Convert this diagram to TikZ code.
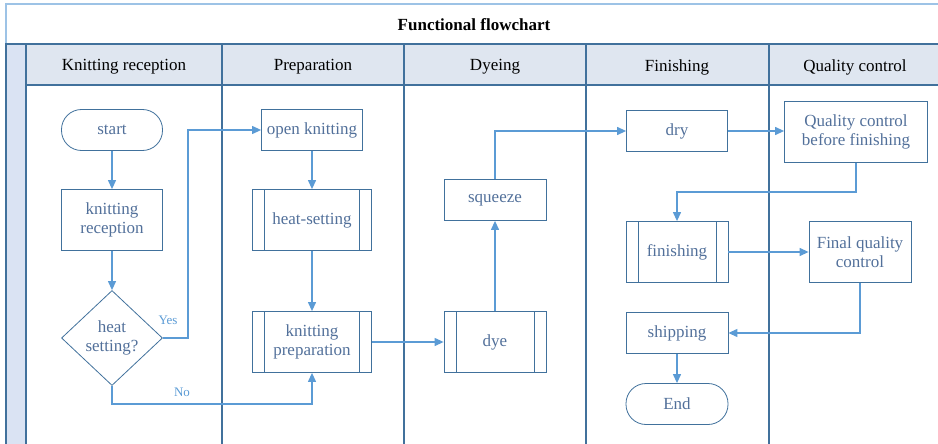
\documentclass[tikz,border=0pt]{standalone}
\usepackage{fontspec}
\setmainfont{Liberation Serif}
\usepackage{xcolor}
\usetikzlibrary{shapes.geometric,arrows.meta}

\definecolor{laneblue}{HTML}{41719C}
\definecolor{flowblue}{HTML}{5B9BD5}
\definecolor{textblue}{HTML}{52709A}
\definecolor{headfill}{HTML}{DFE6F0}
\definecolor{sidefill}{HTML}{DAE3F3}
\definecolor{topblue}{HTML}{9DC3E6}

\begin{document}
\begin{tikzpicture}[
  x=1pt, y=-1pt,
  font=\fontsize{17}{19.5}\selectfont,
  schritt/.style={
    shape=rectangle, draw=laneblue, line width=0.8pt, text=textblue,
    inner sep=0pt, minimum width=101pt, minimum height=41pt, align=center
  },
  hoch/.style={schritt, minimum height=61pt},
  unter/.style={
    schritt, minimum width=119pt, minimum height=61pt,
    path picture={
      \draw[laneblue, line width=0.8pt]
        ([xshift=12pt]path picture bounding box.north west) -- ([xshift=12pt]path picture bounding box.south west)
        ([xshift=-12pt]path picture bounding box.north east) -- ([xshift=-12pt]path picture bounding box.south east);
    }
  },
  kapsel/.style={schritt, rounded corners=20pt},
  raute/.style={
    shape=diamond, draw=laneblue, line width=0.8pt, text=textblue,
    inner sep=0pt, minimum width=101pt, minimum height=95pt, align=center
  },
  kopf/.style={draw=laneblue, line width=1.2pt, fill=headfill},
  lauf/.style={color=flowblue, line width=1.2pt, -{Triangle[length=9pt,width=8pt]}},
  marke/.style={text=flowblue, font=\fontsize{13}{15}\selectfont}
]
\useasboundingbox (0,0) rectangle (938,444);

% frame and lanes
\fill[sidefill] (6,44) rectangle (26,444);
\draw[kopf] (26,44) rectangle (940,85);
\draw[topblue, line width=1.2pt] (6,44) -- (6,4) -- (940,4);
\draw[laneblue, line width=1.2pt] (6,444) -- (6,44) -- (26,44) -- (26,444);
\foreach \x in {222,404,586,769}
  \draw[laneblue, line width=1.2pt] (\x,44) -- (\x,444);

\draw (474,25) node [font=\fontsize{17}{19.5}\selectfont\bfseries] (titel) {Functional flowchart};
\draw (124,67) node (l1) {Knitting reception};
\draw (313,67) node (l2) {Preparation};
\draw (495,67) node (l3) {Dyeing};
\draw (677,67) node (l4) {Finishing};
\draw (855,67) node (l5) {Quality control};

% steps
\draw (112,130) node [kapsel] (start) {start};
\draw (112,220) node [hoch] (empf) {knitting\\reception};
\draw (112,338) node [raute] (dec) {heat\\setting?};
\draw (312,130) node [schritt] (open) {open knitting};
\draw (312,220) node [unter] (heat) {heat-setting};
\draw (312,342) node [unter] (prep) {knitting\\preparation};
\draw (495,342) node [unter, minimum width=102pt] (dye) {dye};
\draw (495,200) node [schritt, minimum width=102pt] (sq) {squeeze};
\draw (677,131) node [schritt] (dry) {dry};
\draw (856,132) node [hoch, minimum width=143pt] (qcb) {Quality control\\before finishing};
\draw (677,252) node [unter, minimum width=102pt] (fin) {finishing};
\draw (860,252) node [hoch, minimum width=102pt] (fqc) {Final quality\\control};
\draw (677,333) node [schritt, minimum width=102pt] (ship) {shipping};
\draw (677,404) node [kapsel, minimum width=102pt] (ende) {End};

\coordinate (yesbend) at (188,130);
\coordinate (nobend) at (312,404);
\coordinate (qcbend) at (856,192);

\draw (168,320) node [marke] (ja) {Yes};
\draw (182,392) node [marke] (nein) {No};

\draw [lauf] (start) -- (empf);
\draw [lauf] (empf) -- (dec);
\draw [lauf] (open) -- (heat);
\draw [lauf] (heat) -- (prep);
\draw [lauf] (prep) -- (dye);
\draw [lauf] (dye) -- (sq);
\draw [lauf] (dry) -- (qcb.west |- dry);
\draw [lauf] (fin) -- (fqc);
\draw [lauf] (ship) -- (ende);

\draw [lauf] (dec.east) -| (yesbend) -- (open.west);
\draw [lauf] (dec.south) |- (nobend) -- (prep.south);
\draw [lauf] (sq.north) |- (dry.west);
\draw [lauf] (qcb.south) -- (qcbend) -| (fin.north);
\draw [lauf] (fqc.south) |- (ship.east);
\end{tikzpicture}
\end{document}
